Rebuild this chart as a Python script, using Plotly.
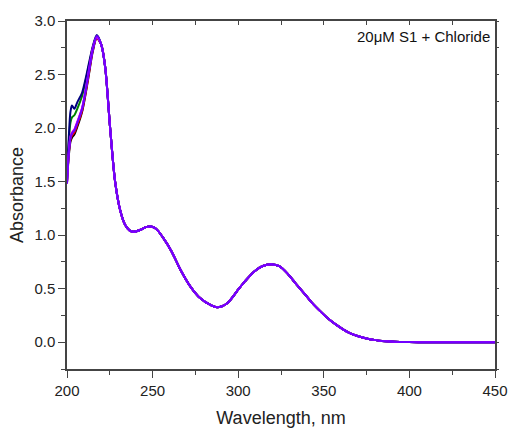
import plotly.graph_objects as go

# Wavelength grid (nm) for the diverging head of the spectra
head_wl = [200, 201, 202, 202.9, 204.3, 206, 208.8, 211, 213, 215, 217.4]
# Absorbance at head wavelengths for each chloride addition
head_black   = [1.49, 1.73, 1.87, 1.91, 1.94, 2.01, 2.15, 2.33, 2.52, 2.71, 2.84]
head_red     = [1.49, 1.75, 1.89, 1.93, 1.96, 2.03, 2.16, 2.34, 2.53, 2.72, 2.84]
head_green   = [1.50, 1.85, 2.05, 2.10, 2.12, 2.18, 2.30, 2.45, 2.60, 2.75, 2.86]
head_navy    = [1.54, 1.90, 2.15, 2.21, 2.18, 2.24, 2.33, 2.47, 2.62, 2.76, 2.87]
head_blue    = [1.49, 1.76, 1.91, 1.95, 1.98, 2.05, 2.18, 2.36, 2.55, 2.73, 2.85]
head_magenta = [1.48, 1.77, 1.92, 1.96, 1.99, 2.06, 2.19, 2.37, 2.56, 2.74, 2.85]
head_purple  = [1.48, 1.76, 1.91, 1.95, 1.98, 2.05, 2.18, 2.36, 2.55, 2.73, 2.86]

# Common tail of the spectra (all curves overlap here)
tail_wl = [220, 222.3, 225.2, 228.1, 231.1, 234, 236.5, 239, 243, 246, 249, 252,
           256.4, 261, 266.2, 272.1, 277.9, 283.8, 287.7, 293.6, 300.4,
           304, 309.2, 314, 319.9, 324, 328.7, 333, 338.5, 343, 348.2, 353,
           358, 364, 369.7, 375, 379.5, 384, 389.3, 395, 400, 410, 420, 430, 440, 450]
tail_abs = [2.78, 2.57, 2.00, 1.50, 1.23, 1.094, 1.045, 1.032, 1.05, 1.075, 1.08, 1.06,
            0.97, 0.85, 0.68, 0.52, 0.41, 0.348, 0.326, 0.364, 0.50,
            0.57, 0.659, 0.71, 0.727, 0.71, 0.643, 0.56, 0.457, 0.37, 0.286, 0.215,
            0.155, 0.095, 0.058, 0.035, 0.022, 0.012, 0.006, 0.003, 0.001, 0.0, 0.0, 0.0, 0.0, 0.0]

series = [
    ("black", head_black),
    ("#ff0000", head_red),
    ("#008000", head_green),
    ("#000080", head_navy),
    ("#0000ff", head_blue),
    ("#ff00ff", head_magenta),
    ("#7000ff", head_purple),
]

x_ticks = [200, 250, 300, 350, 400, 450]
y_ticks = [0.0, 0.5, 1.0, 1.5, 2.0, 2.5, 3.0]

fig = go.Figure()
for color, head in series:
    fig.add_trace(go.Scatter(
        x=head_wl + tail_wl, y=head + tail_abs, mode="lines",
        line=dict(color=color, width=2, shape="spline", smoothing=0.8),
        showlegend=False, hoverinfo="skip"))

axcol = "#444444"
font = dict(family="Liberation Sans, Arial, sans-serif", size=15, color="#222222")

fig.update_layout(
    width=511, height=428,
    margin=dict(l=67, r=16, t=21, b=59, autoexpand=False),
    paper_bgcolor="white", plot_bgcolor="white",
    font=font,
    xaxis=dict(range=[200, 450], tickvals=x_ticks, ticks="outside", ticklen=7,
               tickwidth=1.3, tickcolor=axcol, showline=True, linecolor=axcol,
               linewidth=1.5, showgrid=False, zeroline=False, automargin=False,
               minor=dict(dtick=25, tick0=200, ticks="outside", ticklen=4,
                          tickcolor=axcol, tickwidth=1.3),
               title=dict(text="Wavelength, nm", font=dict(size=18), standoff=14)),
    yaxis=dict(range=[-0.25, 3.0], tickvals=y_ticks, tickformat=".1f", ticks="outside",
               ticklen=7, tickwidth=1.3, tickcolor=axcol, showline=True,
               linecolor=axcol, linewidth=1.5, showgrid=False, zeroline=False,
               automargin=False,
               minor=dict(dtick=0.25, tick0=0, ticks="outside", ticklen=4,
                          tickcolor=axcol, tickwidth=1.3),
               title=dict(text="Absorbance", font=dict(size=18), standoff=6)),
    xaxis2=dict(range=[200, 450], overlaying="x", side="top", tickvals=x_ticks,
                ticks="inside", ticklen=4, tickwidth=1.3, tickcolor=axcol,
                showticklabels=False, showline=True, linecolor=axcol, linewidth=1.5,
                showgrid=False, zeroline=False, automargin=False,
                minor=dict(dtick=25, tick0=200, ticks="inside", ticklen=4,
                           tickcolor=axcol, tickwidth=1.3)),
    yaxis2=dict(range=[-0.25, 3.0], overlaying="y", side="right", tickvals=y_ticks,
                ticks="outside", ticklen=2, tickwidth=1.3, tickcolor=axcol,
                showticklabels=False, showline=True, linecolor=axcol, linewidth=1.5,
                showgrid=False, zeroline=False, automargin=False,
                minor=dict(dtick=0.25, tick0=0, ticks="outside", ticklen=2,
                           tickcolor=axcol, tickwidth=1.3)),
    annotations=[dict(text="20\u03bcM S1 + Chloride", xref="paper", yref="paper",
                      x=1.0, y=0.985, xanchor="right", yanchor="top", xshift=-3,
                      showarrow=False, font=dict(size=15, color="#111111"))],
)
fig.add_trace(go.Scatter(x=[None], y=[None], xaxis="x2", yaxis="y2",
                         showlegend=False, hoverinfo="skip"))

fig.write_html("out.html")
